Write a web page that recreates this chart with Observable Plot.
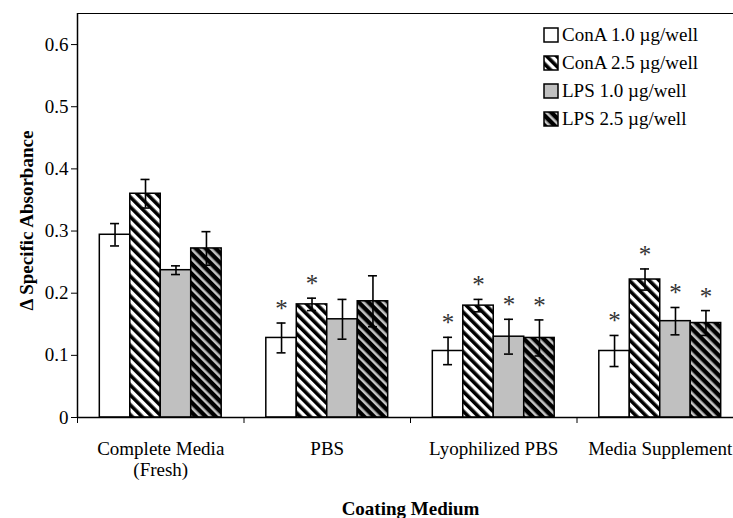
<!DOCTYPE html>
<html><head><meta charset="utf-8">
<script src="https://cdn.jsdelivr.net/npm/d3@7"></script>
<script src="https://cdn.jsdelivr.net/npm/@observablehq/plot@0.6"></script>
<style>
html,body{margin:0;padding:0;background:#fff;overflow:hidden}
#wrap{position:relative;width:733px;height:518px}
#legend{position:absolute;left:543px;top:21px;font:19px "Liberation Serif",serif;color:#000}
.row{display:flex;align-items:center;height:28px;white-space:nowrap}
.row svg{margin-right:3px;display:block}
</style></head>
<body>
<svg width="0" height="0" style="position:absolute">
<defs>
<pattern id="hatchW" patternUnits="userSpaceOnUse" width="7" height="7" patternTransform="rotate(-45)">
<rect width="7" height="7" fill="#fff"/><rect width="3.6" height="7" fill="#000"/>
</pattern>
<pattern id="hatchB" patternUnits="userSpaceOnUse" width="7" height="7" patternTransform="rotate(-45)">
<rect width="7" height="7" fill="#000"/><rect width="2.6" height="7" fill="#c4c4c4"/>
</pattern>
</defs></svg>
<div id="wrap"><div id="legend"></div></div>
<script>
// ---- data ----
const groups = ["Complete Media\n(Fresh)", "PBS", "Lyophilized PBS", "Media Supplement"];
const seriesNames = ["ConA 1.0 µg/well", "ConA 2.5 µg/well", "LPS 1.0 µg/well", "LPS 2.5 µg/well"];
const conA10Mean = [0.294, 0.128, 0.107, 0.107];
const conA10Err  = [0.018, 0.024, 0.022, 0.025];
const conA10Sig  = [false, true, true, true];
const conA25Mean = [0.360, 0.182, 0.180, 0.222];
const conA25Err  = [0.023, 0.010, 0.010, 0.017];
const conA25Sig  = [false, true, true, true];
const lps10Mean  = [0.237, 0.158, 0.130, 0.155];
const lps10Err   = [0.007, 0.032, 0.028, 0.022];
const lps10Sig   = [false, false, true, true];
const lps25Mean  = [0.272, 0.187, 0.128, 0.152];
const lps25Err   = [0.027, 0.041, 0.029, 0.020];
const lps25Sig   = [false, false, true, true];
const yTicks = [0, 0.1, 0.2, 0.3, 0.4, 0.5, 0.6];
const yTitle = "Δ Specific Absorbance";
const xTitle = "Coating Medium";

// ---- styling ----
const fills = ["#ffffff", "url(#hatchW)", "#c0c0c0", "url(#hatchB)"];
const BW = 0.183;   // bar width in group units
const CAP = 0.027;  // error cap half-width in group units
const FONT = "'Liberation Serif','Times New Roman',serif";

const means = [conA10Mean, conA25Mean, lps10Mean, lps25Mean];
const errs = [conA10Err, conA25Err, lps10Err, lps25Err];
const sigs = [conA10Sig, conA25Sig, lps10Sig, lps25Sig];

const rows = groups.flatMap((g, i) => seriesNames.map((s, j) => ({
  gi: i, si: j, v: means[j][i], e: errs[j][i], sig: sigs[j][i]
})));
const groupRows = groups.map((label, i) => ({i, label}));

const x1 = d => d.gi + 0.5 + (d.si - 2) * BW;
const cx = d => x1(d) + BW / 2;

const marks = [];
seriesNames.forEach((s, j) => {
  marks.push(Plot.rectY(rows.filter(d => d.si === j), {
    x1, x2: d => x1(d) + BW, y1: 0, y2: "v",
    fill: fills[j], stroke: "#000", strokeWidth: 1.5
  }));
});
marks.push(
  Plot.ruleX(rows, {x: cx, y1: d => d.v - d.e, y2: d => d.v + d.e, stroke: "#000", strokeWidth: 1.6}),
  Plot.ruleY(rows, {y: d => d.v + d.e, x1: d => cx(d) - CAP, x2: d => cx(d) + CAP, stroke: "#000", strokeWidth: 1.6}),
  Plot.ruleY(rows, {y: d => d.v - d.e, x1: d => cx(d) - CAP, x2: d => cx(d) + CAP, stroke: "#000", strokeWidth: 1.6}),
  Plot.text(rows.filter(d => d.sig), {x: cx, y: d => d.v + d.e, text: () => "*", dy: -14, fontSize: 25, fill: "#333"}),
  Plot.ruleY([0.65], {stroke: "#000", strokeWidth: 1.2}),
  Plot.ruleY([0], {stroke: "#000", strokeWidth: 1.5}),
  Plot.ruleX([0], {stroke: "#000", strokeWidth: 1.5}),
  Plot.axisY({ticks: yTicks, tickFormat: d => String(d), tickSize: 6, tickPadding: 3, label: null, stroke: "#000"}),
  Plot.axisX({ticks: [0, 1, 2, 3], tickFormat: () => "", tickSize: 6, label: null, stroke: "#000"}),
  Plot.text(groupRows, {x: d => d.i + 0.5, text: "label", frameAnchor: "bottom", lineAnchor: "top", dy: 23, lineHeight: 1.1, fill: "#000"}),
  Plot.text([xTitle], {x: () => 2, frameAnchor: "bottom", lineAnchor: "middle", dy: 91, fontWeight: "bold", fill: "#000"}),
  Plot.text([yTitle], {frameAnchor: "left", textAnchor: "middle", rotate: -90, dx: -51, dy: 5, fontWeight: "bold", fill: "#000"})
);

const chart = Plot.plot({
  width: 733, height: 518,
  marginLeft: 77, marginRight: 0, marginTop: 13, marginBottom: 101,
  x: {domain: [0, 4], range: [77, 743]},
  y: {domain: [0, 0.65]},
  style: {fontFamily: FONT, fontSize: "19px", background: "#fff", color: "#000", overflow: "hidden"},
  marks
});
document.getElementById("wrap").prepend(chart);

// legend
const legend = document.getElementById("legend");
seriesNames.forEach((s, j) => {
  const row = document.createElement("div");
  row.className = "row";
  row.innerHTML = `<svg width="16" height="16"><rect x="1" y="1" width="14" height="14" fill="${fills[j]}" stroke="#000" stroke-width="1.5"/></svg><span>${s}</span>`;
  legend.appendChild(row);
});
</script>
</body></html>
